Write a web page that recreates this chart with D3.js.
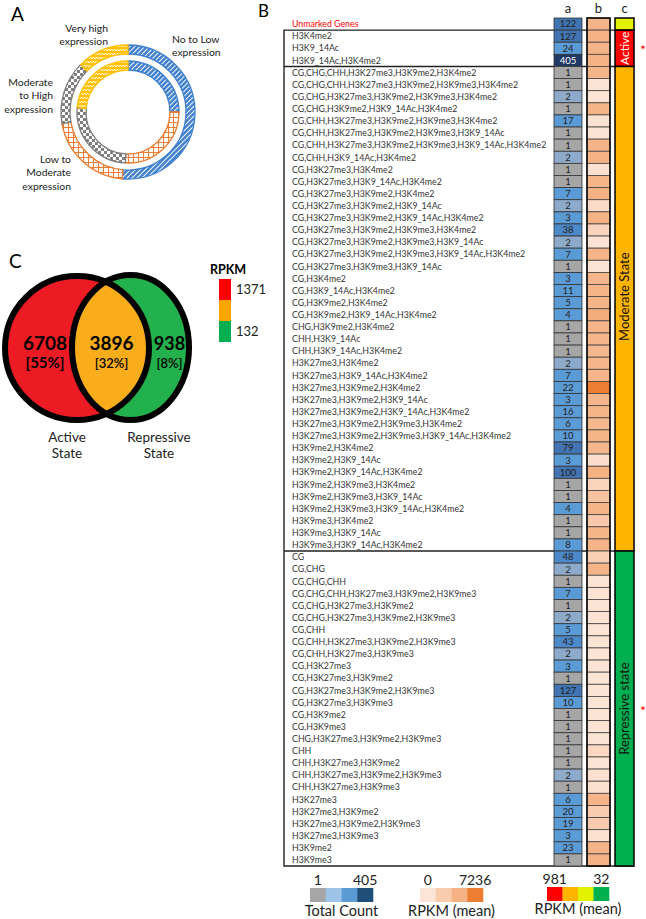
<!DOCTYPE html>
<html>
<head>
<meta charset="utf-8">
<script src="https://cdn.jsdelivr.net/npm/d3@7"></script>
<style>
  body { margin: 0; background: #fff; }
  svg { display: block; font-family: Lato, "Open Sans", sans-serif; }
</style>
</head>
<body>
<div id="chart"></div>
<script>
// ---- panel A: expression rings (share of ring, degrees) ----
const ringCategories = ["No to Low", "Low to Moderate", "Moderate to High", "Very high"];
const outerShares = [185, 75, 55, 45];
const innerShares = [90, 93, 92, 85];

// ---- panel C: venn ----
const vennLabels = ["Active", "Repressive"];
const vennCounts = [6708, 3896, 938];
const vennPercents = ["55%", "32%", "8%"];
const vennRpkmTicks = [1371, 132];

// ---- panel B: mark combinations ----
const rowLabels = [
  "Unmarked Genes",
  "H3K4me2", "H3K9_14Ac", "H3K9_14Ac,H3K4me2",
  "CG,CHG,CHH,H3K27me3,H3K9me2,H3K4me2",
  "CG,CHG,CHH,H3K27me3,H3K9me2,H3K9me3,H3K4me2",
  "CG,CHG,H3K27me3,H3K9me2,H3K9me3,H3K4me2",
  "CG,CHG,H3K9me2,H3K9_14Ac,H3K4me2",
  "CG,CHH,H3K27me3,H3K9me2,H3K9me3,H3K4me2",
  "CG,CHH,H3K27me3,H3K9me2,H3K9me3,H3K9_14Ac",
  "CG,CHH,H3K27me3,H3K9me2,H3K9me3,H3K9_14Ac,H3K4me2",
  "CG,CHH,H3K9_14Ac,H3K4me2",
  "CG,H3K27me3,H3K4me2",
  "CG,H3K27me3,H3K9_14Ac,H3K4me2",
  "CG,H3K27me3,H3K9me2,H3K4me2",
  "CG,H3K27me3,H3K9me2,H3K9_14Ac",
  "CG,H3K27me3,H3K9me2,H3K9_14Ac,H3K4me2",
  "CG,H3K27me3,H3K9me2,H3K9me3,H3K4me2",
  "CG,H3K27me3,H3K9me2,H3K9me3,H3K9_14Ac",
  "CG,H3K27me3,H3K9me2,H3K9me3,H3K9_14Ac,H3K4me2",
  "CG,H3K27me3,H3K9me3,H3K9_14Ac",
  "CG,H3K4me2",
  "CG,H3K9_14Ac,H3K4me2",
  "CG,H3K9me2,H3K4me2",
  "CG,H3K9me2,H3K9_14Ac,H3K4me2",
  "CHG,H3K9me2,H3K4me2",
  "CHH,H3K9_14Ac",
  "CHH,H3K9_14Ac,H3K4me2",
  "H3K27me3,H3K4me2",
  "H3K27me3,H3K9_14Ac,H3K4me2",
  "H3K27me3,H3K9me2,H3K4me2",
  "H3K27me3,H3K9me2,H3K9_14Ac",
  "H3K27me3,H3K9me2,H3K9_14Ac,H3K4me2",
  "H3K27me3,H3K9me2,H3K9me3,H3K4me2",
  "H3K27me3,H3K9me2,H3K9me3,H3K9_14Ac,H3K4me2",
  "H3K9me2,H3K4me2",
  "H3K9me2,H3K9_14Ac",
  "H3K9me2,H3K9_14Ac,H3K4me2",
  "H3K9me2,H3K9me3,H3K4me2",
  "H3K9me2,H3K9me3,H3K9_14Ac",
  "H3K9me2,H3K9me3,H3K9_14Ac,H3K4me2",
  "H3K9me3,H3K4me2",
  "H3K9me3,H3K9_14Ac",
  "H3K9me3,H3K9_14Ac,H3K4me2",
  "CG", "CG,CHG", "CG,CHG,CHH",
  "CG,CHG,CHH,H3K27me3,H3K9me2,H3K9me3",
  "CG,CHG,H3K27me3,H3K9me2",
  "CG,CHG,H3K27me3,H3K9me2,H3K9me3",
  "CG,CHH",
  "CG,CHH,H3K27me3,H3K9me2,H3K9me3",
  "CG,CHH,H3K27me3,H3K9me3",
  "CG,H3K27me3",
  "CG,H3K27me3,H3K9me2",
  "CG,H3K27me3,H3K9me2,H3K9me3",
  "CG,H3K27me3,H3K9me3",
  "CG,H3K9me2",
  "CG,H3K9me3",
  "CHG,H3K27me3,H3K9me2,H3K9me3",
  "CHH",
  "CHH,H3K27me3,H3K9me2",
  "CHH,H3K27me3,H3K9me2,H3K9me3",
  "CHH,H3K27me3,H3K9me3",
  "H3K27me3",
  "H3K27me3,H3K9me2",
  "H3K27me3,H3K9me2,H3K9me3",
  "H3K27me3,H3K9me3",
  "H3K9me2",
  "H3K9me3"
];
const totalCount = [
  122, 127, 24, 405,
  1, 1, 2, 1, 17, 1, 1, 2, 1, 1, 7, 2, 3, 38, 2, 7, 1, 3, 11, 5, 4, 1, 1, 1, 2, 7,
  22, 3, 16, 6, 10, 79, 3, 100, 1, 1, 4, 1, 1, 8,
  48, 2, 1, 7, 1, 2, 5, 43, 2, 3, 1, 127, 10, 1, 1, 1, 1, 1, 2, 1, 6, 20, 19, 3, 23, 1
];
// estimated from the cell shading
const rpkmMean = [
  4600, 4700, 4600, 4700,
  4600, 400, 500, 4600, 600, 500, 4600, 4700, 700, 4500, 4800, 1200, 4700, 1800, 600, 4600,
  500, 4400, 4500, 4500, 5000, 4500, 4400, 4300, 4400, 4500, 7236, 4400, 4500, 4300, 4600,
  4400, 1000, 4700, 1800, 3300, 4600, 2800, 4500, 4600,
  2200, 4600, 500, 500, 500, 600, 500, 400, 400, 500, 400, 500, 400, 500, 500, 400,
  1500, 500, 700, 800, 4500, 2500, 2600, 700, 4600, 4700
];
const states = ["", "Active", "Moderate State", "Repressive state"];
const stateRows = [1, 3, 40, 26];
const stateRpkm = [400, 981, 700, 32];

const countColors = ["#a6a6a6", "#9dc3e6", "#5b9bd5", "#1f4e79"];
const rpkmColors = ["#fce4d6", "#f8cbad", "#f4b183", "#ed7d31"];
const stateColors = ["#ff0000", "#ffb400", "#e2f200", "#00b050"];

const W = 646, H = 919;
const svg = d3.select("#chart").append("svg")
    .attr("width", W).attr("height", H)
    .attr("viewBox", [0, 0, W, H]);

const defs = svg.append("defs");

// ---------- patterns for panel A ----------
const ringColors = ["#3e7fd0", "#ed7d31", "#7f7f7f", "#ffc000"];
const pBlue = defs.append("pattern").attr("id", "p0").attr("width", 3.5).attr("height", 3.5)
    .attr("patternUnits", "userSpaceOnUse").attr("patternTransform", "rotate(45)");
pBlue.append("rect").attr("width", 3.5).attr("height", 3.5).attr("fill", ringColors[0]);
pBlue.append("rect").attr("width", 1).attr("height", 3.5).attr("fill", "#fff");

const pOrange = defs.append("pattern").attr("id", "p1").attr("width", 5).attr("height", 5)
    .attr("patternUnits", "userSpaceOnUse");
pOrange.append("rect").attr("width", 5).attr("height", 5).attr("fill", "#fff");
pOrange.append("path").attr("d", "M0,0.5H5M0.5,0V5").attr("stroke", ringColors[1]).attr("stroke-width", 1.1);

const pGray = defs.append("pattern").attr("id", "p2").attr("width", 6).attr("height", 6)
    .attr("patternUnits", "userSpaceOnUse");
pGray.append("rect").attr("width", 6).attr("height", 6).attr("fill", ringColors[2]);
pGray.append("rect").attr("width", 3).attr("height", 3).attr("fill", "#fff");
pGray.append("rect").attr("x", 3).attr("y", 3).attr("width", 3).attr("height", 3).attr("fill", "#fff");

const pYellow = defs.append("pattern").attr("id", "p3").attr("width", 6).attr("height", 4)
    .attr("patternUnits", "userSpaceOnUse");
pYellow.append("rect").attr("width", 6).attr("height", 4).attr("fill", ringColors[3]);
pYellow.append("path").attr("d", "M0,3L1.5,1L3,3L4.5,1L6,3").attr("fill", "none")
    .attr("stroke", "#fff").attr("stroke-width", 0.9);

// ---------- panel A ----------
const gA = svg.append("g").attr("transform", "translate(128,112)");
const pie = d3.pie().sort(null).value(d => d).startAngle(0).endAngle(2 * Math.PI);
[[outerShares, 58, 67], [innerShares, 42, 51]].forEach(([shares, r0, r1]) => {
  const arc = d3.arc().innerRadius(r0).outerRadius(r1);
  gA.append("g").selectAll("path")
    .data(pie(shares))
    .join("path")
      .attr("d", arc)
      .attr("fill", (d, i) => `url(#p${i})`)
      .attr("stroke", (d, i) => ringColors[i])
      .attr("stroke-width", 1.3);
});

svg.append("text").attr("x", 11).attr("y", 21).attr("font-size", 19).text("A");

const ringLabelPos = [
  {x: 172, y: 43, anchor: "start"},
  {x: 71, y: 163, anchor: "end"},
  {x: 53, y: 86, anchor: "end"},
  {x: 108, y: 32, anchor: "end"}
];
const ringLabelLines = [
  ["No to Low", "expression"],
  ["Low to", "Moderate", "expression"],
  ["Moderate", "to High", "expression"],
  ["Very high", "expression"]
];
ringCategories.forEach((c, i) => {
  const p = ringLabelPos[i];
  const t = svg.append("text").attr("x", p.x).attr("y", p.y)
      .attr("text-anchor", p.anchor).attr("font-size", 10.4).attr("fill", "#222");
  ringLabelLines[i].forEach((l, j) => t.append("tspan").attr("x", p.x).attr("dy", j ? 13.3 : 0).text(l));
});

// ---------- panel C ----------
svg.append("text").attr("x", 9).attr("y", 268).attr("font-size", 19).text("C");
const gC = svg.append("g");
defs.append("clipPath").attr("id", "leftClip")
  .append("circle").attr("cx", 77).attr("cy", 348).attr("r", 72);
gC.append("circle").attr("cx", 77).attr("cy", 348).attr("r", 72).attr("fill", "#ed1c24");
gC.append("ellipse").attr("cx", 130.5).attr("cy", 347.5).attr("rx", 58.5).attr("ry", 72.5).attr("fill", "#22b14c");
gC.append("ellipse").attr("cx", 130.5).attr("cy", 347.5).attr("rx", 58.5).attr("ry", 72.5)
    .attr("fill", "#f9ad1b").attr("clip-path", "url(#leftClip)");
gC.append("circle").attr("cx", 77).attr("cy", 348).attr("r", 72)
    .attr("fill", "none").attr("stroke", "#000").attr("stroke-width", 6);
gC.append("ellipse").attr("cx", 130.5).attr("cy", 347.5).attr("rx", 58.5).attr("ry", 72.5)
    .attr("fill", "none").attr("stroke", "#000").attr("stroke-width", 6);

const vennX = [45, 111.5, 169.5];
vennCounts.forEach((v, i) => {
  gC.append("text").attr("x", vennX[i]).attr("y", 350).attr("text-anchor", "middle")
    .attr("font-size", i === 2 ? 18 : 19).attr("font-weight", 700).text(v);
  gC.append("text").attr("x", vennX[i]).attr("y", 368).attr("text-anchor", "middle")
    .attr("font-size", i === 0 ? 15 : 13).attr("font-weight", i === 0 ? 700 : 600)
    .text(`[${vennPercents[i]}]`);
});
const vennLabelX = [67, 159];
vennLabels.forEach((l, i) => {
  const t = svg.append("text").attr("x", vennLabelX[i]).attr("y", 442)
      .attr("text-anchor", "middle").attr("font-size", 13.5).attr("fill", "#222");
  t.append("tspan").attr("x", vennLabelX[i]).text(l);
  t.append("tspan").attr("x", vennLabelX[i]).attr("dy", 16).text("State");
});

// venn legend
svg.append("text").attr("x", 210).attr("y", 274).attr("font-size", 12.5).attr("font-weight", 700).text("RPKM");
const vennLegendColors = ["#ff0000", "#ffa500", "#00b050"];
const vl = d3.scaleBand().domain(d3.range(3)).range([279, 342]);
svg.append("g").selectAll("rect").data(vennLegendColors).join("rect")
    .attr("x", 219).attr("y", (d, i) => vl(i)).attr("width", 12).attr("height", vl.bandwidth())
    .attr("fill", d => d);
[0, 2].forEach((idx, k) => {
  svg.append("text").attr("x", 236).attr("y", vl(idx) + vl.bandwidth() / 2 + 4.5)
    .attr("font-size", 13).attr("fill", "#222").text(vennRpkmTicks[k]);
});

// ---------- panel B ----------
svg.append("text").attr("x", 258).attr("y", 17).attr("font-size", 17).text("B");

const y = d3.scaleBand().domain(d3.range(rowLabels.length)).range([18, 866]);
const colA = [554, 582], colB = [587, 610], colC = [615, 634];

const countColor = d3.scaleThreshold()
    .domain([2, 3, 30, 70, 300])
    .range(["#a6a6a6", "#8eaacb", "#5b9bd5", "#4d88c8", "#4174b0", "#203864"]);
const rpkmColor = d3.scaleLinear()
    .domain([0, 2412, 4824, 7236])
    .range(["#fde9dc", "#f9cdb2", "#f4b183", "#ed7d31"]);
const stateColor = d3.scaleQuantize().domain([32, 981]).range(stateColors.slice().reverse());

// column headers
["a", "b", "c"].forEach((h, i) => {
  const c = [colA, colB, colC][i];
  svg.append("text").attr("x", (c[0] + c[1]) / 2).attr("y", 13).attr("text-anchor", "middle")
    .attr("font-size", 13).attr("fill", "#222").text(h);
});

// row labels
svg.append("g").selectAll("text").data(rowLabels).join("text")
    .attr("x", 292).attr("y", (d, i) => y(i) + y.bandwidth() / 2 + 3.2)
    .attr("font-size", 8.8)
    .attr("fill", (d, i) => i === 0 ? "#ff0000" : "#333")
    .text(d => d);

// group boxes
const bounds = d3.cumsum(stateRows);
const boxTop = y(bounds[0]);
svg.append("path")
    .attr("d", `M${colC[1]},${boxTop}H284V${y.range()[1]}H${colC[1]}`)
    .attr("fill", "none").attr("stroke", "#222").attr("stroke-width", 1.4);
[bounds[1], bounds[2]].forEach(b => {
  svg.append("line").attr("x1", 284).attr("x2", colC[1]).attr("y1", y(b)).attr("y2", y(b))
    .attr("stroke", "#222").attr("stroke-width", 1.4);
});

// column a
const ga = svg.append("g");
ga.selectAll("rect").data(totalCount).join("rect")
    .attr("x", colA[0]).attr("y", (d, i) => y(i)).attr("width", colA[1] - colA[0]).attr("height", y.bandwidth())
    .attr("fill", d => countColor(d)).attr("stroke", "#333").attr("stroke-width", 0.8);
ga.selectAll("text").data(totalCount).join("text")
    .attr("x", (colA[0] + colA[1]) / 2).attr("y", (d, i) => y(i) + y.bandwidth() / 2 + 3.4)
    .attr("text-anchor", "middle").attr("font-size", 9.5)
    .attr("fill", d => d > 300 ? "#fff" : "#222").text(d => d);

// column b
const gb = svg.append("g");
gb.selectAll("rect").data(rpkmMean).join("rect")
    .attr("x", colB[0]).attr("y", (d, i) => y(i)).attr("width", colB[1] - colB[0]).attr("height", y.bandwidth())
    .attr("fill", d => rpkmColor(d)).attr("stroke", "#444").attr("stroke-width", 0.8);
gb.append("rect").attr("x", colB[0]).attr("y", y.range()[0]).attr("width", colB[1] - colB[0])
    .attr("height", y.range()[1] - y.range()[0]).attr("fill", "none").attr("stroke", "#000").attr("stroke-width", 1.5);

// column c
const gc = svg.append("g");
const starts = [0, ...bounds.slice(0, -1)];
states.forEach((s, i) => {
  const y0 = y(starts[i]), y1 = y(starts[i]) + stateRows[i] * y.step();
  gc.append("rect").attr("x", colC[0]).attr("y", y0).attr("width", colC[1] - colC[0]).attr("height", y1 - y0)
    .attr("fill", stateColor(stateRpkm[i])).attr("stroke", "#000").attr("stroke-width", 1.5);
  if (s) {
    const cy = (y0 + y1) / 2 - (i === 2 ? 12 : 0);
    gc.append("text")
      .attr("transform", `translate(${(colC[0] + colC[1]) / 2 + 4.5},${cy}) rotate(-90)`)
      .attr("text-anchor", "middle").attr("font-size", i === 1 ? 12 : 13)
      .attr("fill", i === 1 ? "#fff" : "#111").text(s);
  }
});
// significance markers
[1, 3].forEach(i => {
  const y0 = y(starts[i]), y1 = y0 + stateRows[i] * y.step();
  svg.append("text").attr("x", 643).attr("y", (y0 + y1) / 2 + 7).attr("text-anchor", "middle")
    .attr("font-size", 14).attr("fill", "#ff0000").text("*");
});

// ---------- bottom legends ----------
function legend(x0, x1, yTop, colors, ticks, title, titleY, tickY) {
  const xs = d3.scaleBand().domain(d3.range(colors.length)).range([x0, x1]);
  const g = svg.append("g");
  g.selectAll("rect").data(colors).join("rect")
    .attr("x", (d, i) => xs(i)).attr("y", yTop).attr("width", xs.bandwidth() + 0.3).attr("height", 14)
    .attr("fill", d => d);
  g.append("text").attr("x", xs(0) + xs.bandwidth() / 2).attr("y", tickY).attr("text-anchor", "middle")
    .attr("font-size", 14).attr("fill", "#222").text(ticks[0]);
  g.append("text").attr("x", xs(colors.length - 1) + xs.bandwidth() / 2).attr("y", tickY).attr("text-anchor", "middle")
    .attr("font-size", 14).attr("fill", "#222").text(ticks[1]);
  g.append("text").attr("x", (x0 + x1) / 2).attr("y", titleY).attr("text-anchor", "middle")
    .attr("font-size", 14.5).attr("fill", "#222").text(title);
}
legend(310, 373, 888, countColors, [d3.min(totalCount), d3.max(totalCount)], "Total Count", 916, 885);
legend(420, 483, 888, rpkmColors, [0, d3.max(rpkmMean)], "RPKM (mean)", 916, 885);
legend(547, 609, 887, stateColors, [d3.max(stateRpkm), d3.min(stateRpkm)], "RPKM (mean)", 914, 884);
</script>
</body>
</html>
